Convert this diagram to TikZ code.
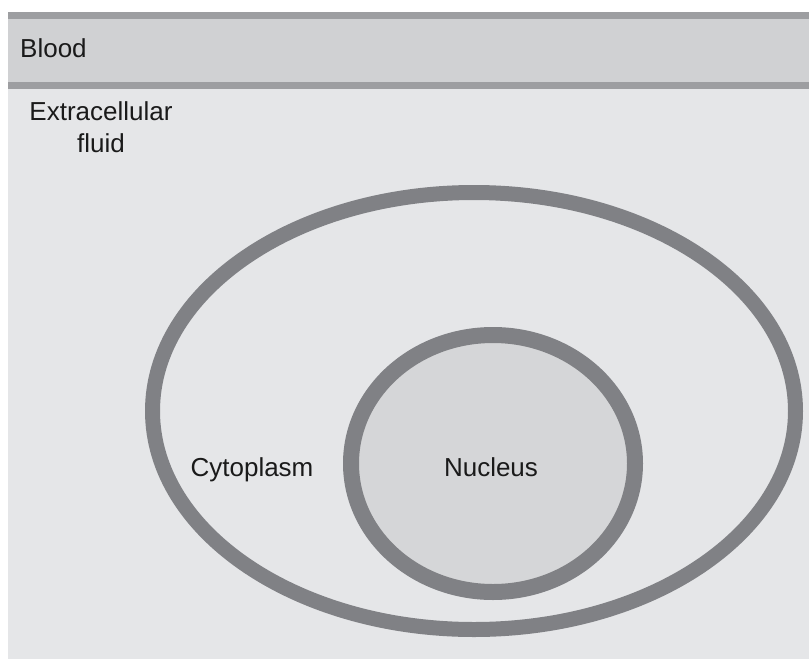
\documentclass[tikz,border=0pt]{standalone}
\usepackage{fontspec}
\setmainfont{Liberation Sans}
\usetikzlibrary{shapes.geometric}
\definecolor{bgfluid}{HTML}{E5E6E8}
\definecolor{bandfill}{HTML}{D0D1D3}
\definecolor{bandline}{HTML}{9D9EA1}
\definecolor{ring}{HTML}{808185}
\definecolor{nucfill}{HTML}{D5D6D8}
\definecolor{txt}{HTML}{1A1A1A}
\tikzset{
  lbl/.style={font=\fontsize{26}{32}\selectfont, text=txt, inner sep=0pt, align=center},
  membrane/.style={ellipse, draw=ring, inner sep=0pt},
}
\begin{document}
\begin{tikzpicture}[x=1pt,y=-1pt]
\useasboundingbox (0,0) rectangle (809,659);
\fill[white] (0,0) rectangle (809,659);
% extracellular fluid
\fill[bgfluid] (8,89) rectangle (809,659);
% blood band
\fill[bandfill] (8,19) rectangle (809,82);
\fill[bandline] (8,12) rectangle (809,19);
\fill[bandline] (8,82) rectangle (809,89);
% cell
\node[membrane, line width=15pt, minimum width=643pt, minimum height=437pt] (cell) at (474,411) {};
\node[membrane, line width=16pt, fill=nucfill, minimum width=284pt, minimum height=257pt] (nucleus) at (493,463.5) {};
% labels
\node[lbl, anchor=west] (blood) at (20,48) {Blood};
\node[lbl] (ecf) at (101,127) {Extracellular\\fluid};
\node[lbl] (cyto) at (252,470) {Cytoplasm};
\node[lbl] (nuc) at (491,467) {Nucleus};
\end{tikzpicture}
\end{document}
